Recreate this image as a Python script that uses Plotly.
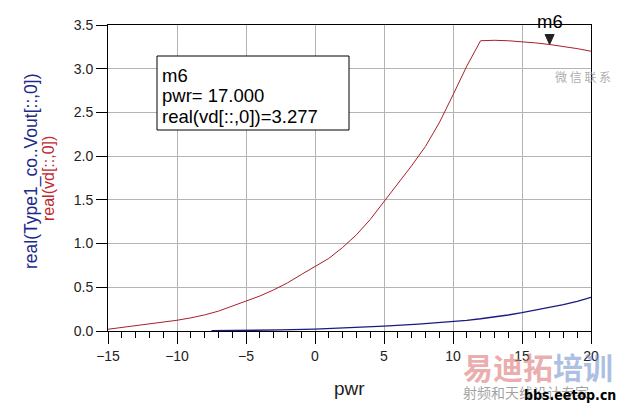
import plotly.graph_objects as go

# ---- data ----
pwr = list(range(-15, 21))
vd_real = [0.02, 0.04, 0.056, 0.077, 0.10, 0.123, 0.15, 0.184, 0.227, 0.283,
           0.343, 0.40, 0.47, 0.55, 0.645, 0.735, 0.83, 0.955, 1.10, 1.275,
           1.48, 1.69, 1.89, 2.11, 2.38, 2.70, 3.03, 3.32, 3.325, 3.32,
           3.31, 3.295, 3.277, 3.255, 3.23, 3.20]

vout_pwr = [-7.5, -5, -2.5, 0, 2.5, 5, 7.5, 10, 11, 12, 13, 14, 15, 16, 17, 18, 19, 20]
vout_real = [0.003, 0.006, 0.012, 0.022, 0.036, 0.055, 0.078, 0.107, 0.122, 0.14,
             0.16, 0.183, 0.21, 0.238, 0.268, 0.302, 0.34, 0.385]

m6_pwr = 17.0
m6_val = 3.277
box_lines = ["m6", "pwr= 17.000", "real(vd[::,0])=3.277"]

x_ticks = [-15, -10, -5, 0, 5, 10, 15, 20]
y_ticks = [0.0, 0.5, 1.0, 1.5, 2.0, 2.5, 3.0, 3.5]

RED = "#a8202a"
BLUE = "#1a1a80"
FONT = "Liberation Sans, Arial, sans-serif"

# plot area in pixels
L, R, T, B = 108, 591, 25, 331
W, H = R - L, B - T


def px(x):
    return (x - L) / W


def py(y):
    return (B - y) / H


fig = go.Figure()
fig.add_trace(go.Scatter(x=pwr, y=vd_real, mode="lines",
                         line=dict(color=RED, width=1), showlegend=False))
fig.add_trace(go.Scatter(x=vout_pwr, y=vout_real, mode="lines",
                         line=dict(color=BLUE, width=1.3), showlegend=False))

fig.update_layout(
    width=620, height=407,
    margin=dict(l=L, r=620 - R, t=T, b=407 - B),
    paper_bgcolor="white", plot_bgcolor="white",
    font=dict(family=FONT, size=14, color="#222222"),
    xaxis=dict(range=[-15, 20], tickvals=x_ticks, ticks="outside", ticklen=12,
               tickcolor="black", showline=True, linecolor="black", linewidth=1,
               mirror=True, showgrid=True, gridcolor="#b4b4b4", gridwidth=1,
               zeroline=False, tickfont=dict(size=14, color="#222222"),
               minor=dict(dtick=1, ticks="outside", ticklen=6, tickcolor="black",
                          showgrid=False)),
    yaxis=dict(range=[0, 3.5], tickvals=y_ticks, tickformat=".1f", ticks="outside",
               ticklen=11, tickcolor="black", showline=True, linecolor="black",
               linewidth=1, mirror=True, showgrid=True, gridcolor="#b4b4b4",
               gridwidth=1, zeroline=False, tickfont=dict(size=14, color="#222222")),
)

# marker box
fig.add_shape(type="rect", xref="paper", yref="paper",
              x0=px(157), x1=px(349), y0=py(130), y1=py(56),
              line=dict(color="black", width=1), fillcolor="white", layer="above")
for i, line in enumerate(box_lines):
    fig.add_annotation(xref="paper", yref="paper", x=px(160), y=py(75.5 + 20.5 * i),
                       xanchor="left", yanchor="middle", align="left", showarrow=False,
                       text=line, font=dict(size=18.5, color="black", family=FONT))

# marker triangle (tip on the curve)
fig.add_shape(type="path", xref="x", yref="y", xsizemode="pixel", ysizemode="pixel",
              xanchor=m6_pwr, yanchor=m6_val,
              path="M -4.5 10 L 4.5 10 L 0 0 Z",
              fillcolor="#222222", line=dict(color="#222222", width=1), layer="above")
fig.add_annotation(xref="x", yref="paper", x=m6_pwr, y=py(21.5), text="m6",
                   showarrow=False, xanchor="center", yanchor="middle",
                   font=dict(size=18.5, color="black", family=FONT))

# axis titles
fig.add_annotation(xref="paper", yref="paper", x=0.5, y=py(388), text="pwr",
                   showarrow=False, xanchor="center", yanchor="middle",
                   font=dict(size=19, color="#222222", family=FONT))
fig.add_annotation(xref="paper", yref="paper", x=px(31), y=py(171), textangle=-90,
                   text="real(Type1_co..Vout[::,0])", showarrow=False,
                   xanchor="center", yanchor="middle",
                   font=dict(size=17.5, color="#1c2a8c", family=FONT))
fig.add_annotation(xref="paper", yref="paper", x=px(48), y=py(179), textangle=-90,
                   text="real(vd[::,0])", showarrow=False,
                   xanchor="center", yanchor="middle",
                   font=dict(size=16, color="#c0282e", family=FONT))

# watermarks
CJK = "Noto Sans CJK SC"
fig.add_annotation(xref="paper", yref="paper", x=px(461), y=py(366), xanchor="left",
                   yanchor="middle",
                   text="<b><span style='color:rgba(220,120,120,0.6)'>易迪拓</span>"
                        "<span style='color:rgba(120,150,205,0.6)'>培训</span></b>",
                   showarrow=False, font=dict(size=30, family=CJK))
fig.add_annotation(xref="paper", yref="paper", x=px(461), y=py(392), xanchor="left",
                   yanchor="middle", text="射频和天线设计专家", showarrow=False,
                   font=dict(size=14, color="rgba(120,120,120,0.7)", family=CJK))
fig.add_annotation(xref="paper", yref="paper", x=px(618), y=py(395), xanchor="right",
                   yanchor="middle", text="<b>bbs.eetop.cn</b>", showarrow=False,
                   font=dict(size=14, color="black",
                             family="DejaVu Sans Condensed, DejaVu Sans"))
fig.add_annotation(xref="paper", yref="paper", x=px(583), y=py(77), xanchor="center",
                   yanchor="middle", text="微 信 联 系", showarrow=False,
                   font=dict(size=12, color="rgba(150,150,150,0.8)", family=CJK))

fig.write_html("out.html", config={"displayModeBar": False},
               post_script="document.body.style.margin='0';")
